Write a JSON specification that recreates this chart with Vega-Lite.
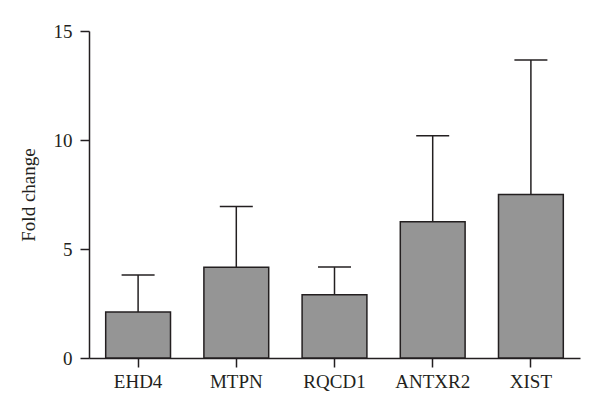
{
  "$schema": "https://vega.github.io/schema/vega-lite/v6.json",
  "autosize": "none",
  "width": 491,
  "height": 327,
  "padding": {"left": 89, "top": 31, "right": 20, "bottom": 54},
  "background": "white",
  "config": {
    "view": {"stroke": null},
    "font": "Liberation Serif",
    "axis": {
      "grid": false,
      "domainColor": "#231f20",
      "domainWidth": 1.5,
      "tickColor": "#231f20",
      "tickWidth": 1.5,
      "tickSize": 9,
      "labelFont": "Liberation Serif",
      "labelFontSize": 19,
      "labelColor": "#231f20",
      "titleFont": "Liberation Serif",
      "titleFontSize": 19,
      "titleFontWeight": "normal",
      "titleColor": "#231f20"
    }
  },
  "data": {
    "values": [
      {"gene": "EHD4", "mean": 2.11, "upper": 3.81},
      {"gene": "MTPN", "mean": 4.16, "upper": 6.95},
      {"gene": "RQCD1", "mean": 2.9, "upper": 4.17},
      {"gene": "ANTXR2", "mean": 6.25, "upper": 10.2},
      {"gene": "XIST", "mean": 7.5, "upper": 13.67}
    ]
  },
  "encoding": {
    "x": {
      "field": "gene",
      "type": "nominal",
      "sort": null,
      "scale": {"paddingInner": 0.34, "paddingOuter": 0.17},
      "axis": {"title": null, "labelAngle": 0, "labelPadding": 5}
    }
  },
  "layer": [
    {
      "mark": {"type": "rule", "color": "#231f20", "strokeWidth": 1.5},
      "encoding": {
        "y": {"field": "mean", "type": "quantitative"},
        "y2": {"field": "upper"}
      }
    },
    {
      "mark": {"type": "tick", "color": "#231f20", "size": 33, "thickness": 1.5, "opacity": 1},
      "encoding": {
        "y": {"field": "upper", "type": "quantitative"}
      }
    },
    {
      "mark": {"type": "bar", "fill": "#959595", "stroke": "#231f20", "strokeWidth": 1.5},
      "encoding": {
        "y": {
          "field": "mean",
          "type": "quantitative",
          "scale": {"domain": [0, 15], "nice": false},
          "axis": {"title": "Fold change", "values": [0, 5, 10, 15], "labelPadding": 8, "titlePadding": 15}
        }
      }
    }
  ]
}
